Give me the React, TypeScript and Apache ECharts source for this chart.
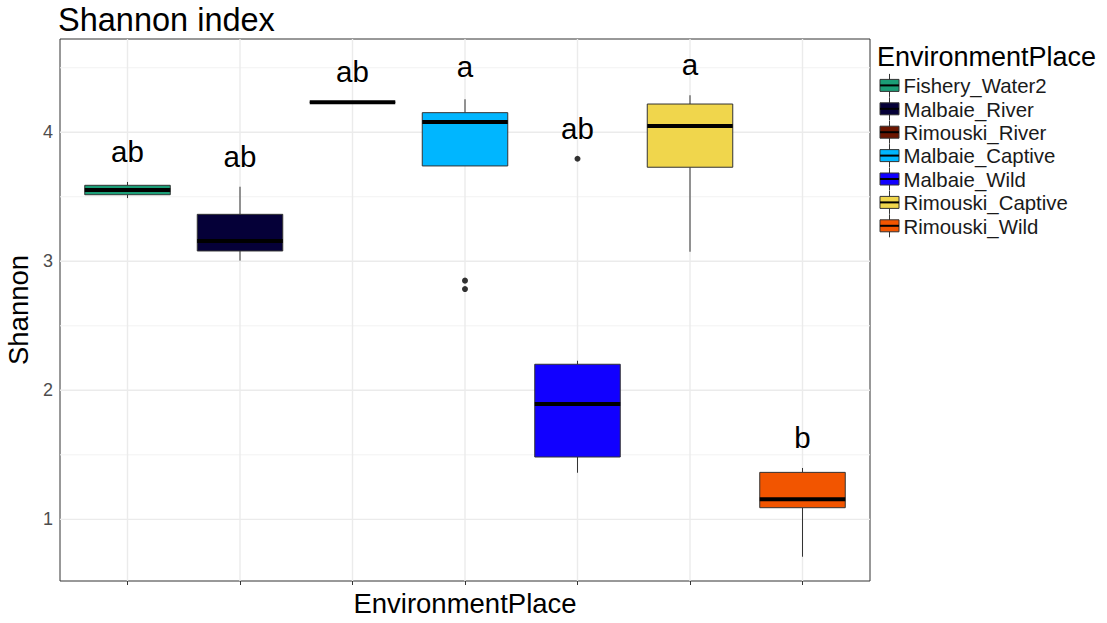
import React, { useEffect, useRef } from "react";
import * as echarts from "echarts";

const FONT = "Liberation Sans, Arial, sans-serif";

const categories = [
  "Fishery_Water2",
  "Malbaie_River",
  "Rimouski_River",
  "Malbaie_Captive",
  "Malbaie_Wild",
  "Rimouski_Captive",
  "Rimouski_Wild",
];
const fillColors = ["#1B9E77", "#050038", "#6B1500", "#00B6FF", "#1100FF", "#F0D64C", "#F25500"];
// box statistics per category
const boxMin = [3.49, 3.005, 4.233, 3.739, 1.361, 3.074, 0.71];
const boxQ1 = [3.516, 3.08, 4.233, 3.739, 1.483, 3.729, 1.09];
const boxMedian = [3.553, 3.157, 4.233, 4.08, 1.894, 4.049, 1.155];
const boxQ3 = [3.589, 3.364, 4.233, 4.152, 2.202, 4.219, 1.364];
const boxMax = [3.615, 3.578, 4.233, 4.256, 2.229, 4.287, 1.398];
// outliers: [category index, value]
const outliers = [
  [3, 2.85],
  [3, 2.785],
  [4, 3.795],
];
const letters = ["ab", "ab", "ab", "a", "ab", "a", "b"];
const letterY = [3.85, 3.811, 4.47, 4.509, 4.031, 4.522, 1.636];
const yTicks = [1, 2, 3, 4];
const yMinor = [1.5, 2.5, 3.5, 4.5];
const Y_MIN = 0.522;
const Y_MAX = 4.723;
const X_MIN = -0.6;
const X_MAX = 6.6;
const BOX_WIDTH = 0.76;

export default function App() {
  const ref = useRef<HTMLDivElement>(null);

  useEffect(() => {
    if (!ref.current) return;
    const chart = echarts.init(ref.current, null, { renderer: "svg" });

    const gridData: number[][] = [];
    yTicks.forEach((v) => gridData.push([0, v, 1]));
    yMinor.forEach((v) => gridData.push([0, v, 0]));
    categories.forEach((_, i) => gridData.push([1, i, 1]));

    const boxData = categories.map((_, i) => [i, boxMin[i], boxQ1[i], boxMedian[i], boxQ3[i], boxMax[i]]);
    const letterData = categories.map((_, i) => [i, letterY[i]]);

    const legendGraphics: any[] = [
      {
        type: "text",
        left: 877,
        top: 56.6 - 13.5,
        style: { text: "EnvironmentPlace", font: `27px ${FONT}`, fill: "#000" },
      },
    ];
    categories.forEach((c, i) => {
      const cy = 86.4 + 23.4 * i;
      const kc = cy - 1;
      legendGraphics.push(
        {
          type: "line",
          shape: { x1: 889.5, y1: kc - 11.5, x2: 889.5, y2: kc + 11.5 },
          style: { stroke: "#333", lineWidth: 1 },
        },
        {
          type: "rect",
          shape: { x: 880, y: kc - 6, width: 19, height: 12 },
          style: { fill: fillColors[i], stroke: "#333", lineWidth: 1 },
        },
        {
          type: "line",
          shape: { x1: 880, y1: kc, x2: 899, y2: kc },
          style: { stroke: "#000", lineWidth: 2 },
        },
        {
          type: "text",
          left: 903.5,
          top: cy - 10.2,
          style: { text: c, font: `20.4px ${FONT}`, fill: "#1a1a1a" },
        }
      );
    });

    chart.setOption({
      animation: false,
      title: {
        text: "Shannon index",
        left: 58,
        top: 3,
        padding: 0,
        textStyle: { fontFamily: FONT, fontSize: 32.5, fontWeight: "normal", color: "#000" },
      },
      grid: {
        left: 60,
        right: 237,
        top: 39,
        bottom: 42,
        outerBoundsMode: "none",
        containLabel: false,
        show: true,
        borderColor: "#333",
        borderWidth: 1,
        backgroundColor: "#fff",
      },
      xAxis: {
        type: "value",
        min: X_MIN,
        max: X_MAX,
        axisLine: { show: false },
        axisTick: {
          show: true,
          customValues: categories.map((_, i) => i),
          length: 4,
          lineStyle: { color: "#333", width: 1 },
        },
        axisLabel: { show: false },
        splitLine: { show: false },
        name: "EnvironmentPlace",
        nameLocation: "middle",
        nameGap: 8,
        nameTextStyle: { fontFamily: FONT, fontSize: 27.5, color: "#000" },
      },
      yAxis: {
        type: "value",
        min: Y_MIN,
        max: Y_MAX,
        axisLine: { show: false },
        axisTick: {
          show: true,
          customValues: yTicks,
          length: 4,
          lineStyle: { color: "#333", width: 1 },
        },
        axisLabel: {
          customValues: yTicks,
          fontFamily: FONT,
          fontSize: 18,
          color: "#4d4d4d",
          margin: 7,
        },
        splitLine: { show: false },
        name: "Shannon",
        nameLocation: "middle",
        nameRotate: 90,
        nameGap: 23,
        nameTextStyle: { fontFamily: FONT, fontSize: 27.5, color: "#000" },
      },
      graphic: legendGraphics,
      series: [
        {
          type: "custom",
          name: "grid",
          silent: true,
          z: 1,
          data: gridData,
          encode: { x: 1, y: 1 },
          renderItem: (params: any, api: any) => {
            const kind = api.value(0);
            const v = api.value(1);
            const major = api.value(2) === 1;
            const cs = params.coordSys;
            const style = { stroke: major ? "#EBEBEB" : "#F2F2F2", lineWidth: major ? 1.4 : 1 };
            if (kind === 0) {
              const p = api.coord([0, v]);
              return { type: "line", shape: { x1: cs.x, y1: p[1], x2: cs.x + cs.width, y2: p[1] }, style };
            }
            const p = api.coord([v, Y_MIN]);
            return { type: "line", shape: { x1: p[0], y1: cs.y, x2: p[0], y2: cs.y + cs.height }, style };
          },
        },
        {
          type: "custom",
          name: "boxes",
          z: 3,
          data: boxData,
          encode: { x: 0, y: [1, 2, 3, 4, 5] },
          renderItem: (params: any, api: any) => {
            const i = api.value(0);
            const mn = api.value(1);
            const q1 = api.value(2);
            const md = api.value(3);
            const q3 = api.value(4);
            const mx = api.value(5);
            const cx = api.coord([i, md])[0];
            const hw = api.size([BOX_WIDTH, 0])[0] / 2;
            const y = (v: number) => api.coord([i, v])[1];
            return {
              type: "group",
              children: [
                { type: "line", shape: { x1: cx, y1: y(mx), x2: cx, y2: y(q3) }, style: { stroke: "#333", lineWidth: 1 } },
                { type: "line", shape: { x1: cx, y1: y(q1), x2: cx, y2: y(mn) }, style: { stroke: "#333", lineWidth: 1 } },
                {
                  type: "rect",
                  shape: { x: cx - hw, y: y(q3), width: 2 * hw, height: y(q1) - y(q3) },
                  style: { fill: fillColors[params.dataIndex], stroke: "#333", lineWidth: 1 },
                },
                { type: "line", shape: { x1: cx - hw, y1: y(md), x2: cx + hw, y2: y(md) }, style: { stroke: "#000", lineWidth: 4 } },
              ],
            };
          },
        },
        {
          type: "scatter",
          name: "outliers",
          z: 4,
          data: outliers,
          symbol: "circle",
          symbolSize: 6,
          itemStyle: { color: "#000" },
        },
        {
          type: "custom",
          name: "letters",
          z: 5,
          data: letterData,
          renderItem: (params: any, api: any) => {
            const p = api.coord([api.value(0), api.value(1)]);
            return {
              type: "text",
              x: p[0],
              y: p[1],
              style: {
                text: letters[params.dataIndex],
                font: `29.5px ${FONT}`,
                fill: "#000",
                align: "center",
                verticalAlign: "middle",
              },
            };
          },
        },
      ],
    });

    return () => chart.dispose();
  }, []);

  return (
    <div
      ref={ref}
      style={{ position: "fixed", left: 0, top: 0, width: 1107, height: 623, background: "#fff" }}
    />
  );
}
